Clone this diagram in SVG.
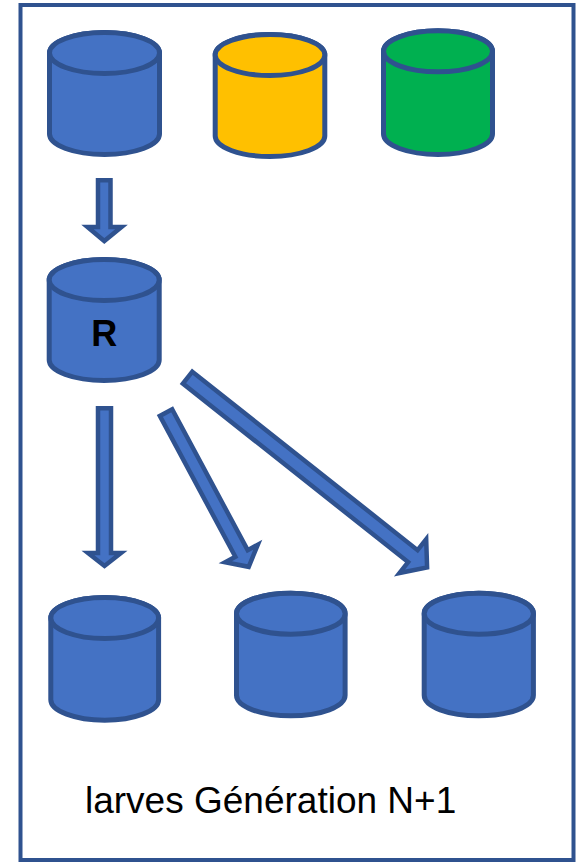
<svg xmlns="http://www.w3.org/2000/svg" width="581" height="863" viewBox="0 0 581 863">
<style>
.cyl{stroke:#2F528F;stroke-width:5;stroke-linejoin:round}
.blue{fill:#4472C4}
.yellow{fill:#FFC000}
.green{fill:#00B050}
.arr{fill:#4472C4;stroke:#2F528F;stroke-width:4.5;stroke-linejoin:miter}
.lbl{font-family:"Liberation Sans",Arial,sans-serif;fill:#000}
</style>
<rect x="0" y="0" width="581" height="863" fill="#fff"/>
<rect id="frame" x="20.5" y="5" width="553" height="855" fill="none" stroke="#2F528F" stroke-width="4"/>
<g id="src-blue">
<path class="cyl blue" d="M49.5,53 V134 A55,20.5 0 0 0 159.5,134 V53 A55,20.5 0 0 0 49.5,53 Z"/>
<ellipse class="cyl blue" cx="104.5" cy="53" rx="55" ry="20.5"/>
</g>
<g id="src-yellow">
<path class="cyl yellow" d="M215.2,55 V136 A54.8,20.5 0 0 0 324.8,136 V55 A54.8,20.5 0 0 0 215.2,55 Z"/>
<ellipse class="cyl yellow" cx="270" cy="55" rx="54.8" ry="20.5"/>
</g>
<g id="src-green">
<path class="cyl green" d="M383.5,51.3 V134 A54.5,20.5 0 0 0 492.5,134 V51.3 A54.5,20.5 0 0 0 383.5,51.3 Z"/>
<ellipse class="cyl green" cx="438" cy="51.3" rx="54.5" ry="20.5"/>
</g>
<g id="R">
<path class="cyl blue" d="M49.2,280 V360 A55,20.5 0 0 0 159.2,360 V280 A55,20.5 0 0 0 49.2,280 Z"/>
<ellipse class="cyl blue" cx="104.2" cy="280" rx="55" ry="20.5"/>
<text class="lbl" x="104.3" y="345.5" font-size="36" font-weight="bold" text-anchor="middle">R</text>
</g>
<g id="out1">
<path class="cyl blue" d="M50.8,618 V699.7 A53.9,20.5 0 0 0 158.6,699.7 V618 A53.9,20.5 0 0 0 50.8,618 Z"/>
<ellipse class="cyl blue" cx="104.7" cy="618" rx="53.9" ry="20.5"/>
</g>
<g id="out2">
<path class="cyl blue" d="M236.5,613.7 V695.3 A54.3,20.5 0 0 0 345.1,695.3 V613.7 A54.3,20.5 0 0 0 236.5,613.7 Z"/>
<ellipse class="cyl blue" cx="290.8" cy="613.7" rx="54.3" ry="20.5"/>
</g>
<g id="out3">
<path class="cyl blue" d="M424.2,613.7 V695.3 A54.6,20.5 0 0 0 533.4,695.3 V613.7 A54.6,20.5 0 0 0 424.2,613.7 Z"/>
<ellipse class="cyl blue" cx="478.8" cy="613.7" rx="54.6" ry="20.5"/>
</g>
<g id="connectors">
<polygon class="arr" points="98,180.2 110.5,180.2 110.5,227 121.5,227 104.3,241 87.5,227 98,227"/>
<polygon class="arr" points="98,408.2 111,408.2 111,553 121,553 104.5,566 88,553 98,553"/>
<polygon class="arr" transform="translate(166,412.6) rotate(61.8)" points="0,-7 159.8,-7 159.8,-18.5 175,0 159.8,18.5 159.8,7 0,7"/>
<polygon class="arr" transform="translate(187.6,377.6) rotate(38.4)" points="0,-7.6 287.4,-7.6 287.4,-21.5 305.6,0 287.4,21.5 287.4,7.6 0,7.6"/>
</g>
<text id="caption" class="lbl" x="85" y="813" font-size="37">larves Génération N+1</text>
</svg>
